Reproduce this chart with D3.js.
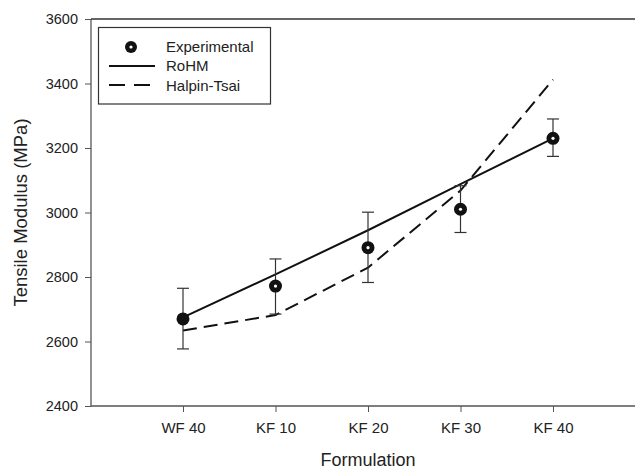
<!DOCTYPE html>
<html><head><meta charset="utf-8">
<script src="https://cdn.jsdelivr.net/npm/d3@7"></script>
<style>body{margin:0;background:#fff}svg{display:block}text{font-family:"Liberation Sans",Arial,sans-serif}</style>
</head><body><svg id="c" width="635" height="469"></svg>
<script>
const categories = ["WF 40","KF 10","KF 20","KF 30","KF 40"];
const experimental = [2670, 2772, 2891, 3010, 3230];
const expErrUp = [95, 84, 110, 73, 60];
const expErrDown = [93, 87, 108, 72, 56];
const rohm = [2675, 2808, 2945, 3088, 3230];
const halpinTsai = [2634, 2682, 2829, 3068, 3412];
const yTicks = [2400, 2600, 2800, 3000, 3200, 3400, 3600];

const svg = d3.select("#c");
const pLeft = 91, pRight = 635, pTop = 19, pBottom = 406;
const x = d3.scalePoint().domain(categories).range([183, 553]);
const y = d3.scaleLinear().domain([2400, 3600]).range([pBottom, pTop]);
const axisColor = "#555";

// axes
const ya = svg.append("g").attr("transform", `translate(${pLeft},0)`)
  .call(d3.axisLeft(y).tickValues(yTicks).tickSizeOuter(0).tickSize(6).tickPadding(7).tickFormat(d3.format("d")));
ya.select(".domain").remove();
ya.selectAll("line").attr("stroke", axisColor);
ya.selectAll("text").attr("font-size", 14.5).attr("fill", "#222").attr("font-family", "Liberation Sans, Arial, sans-serif");

const xa = svg.append("g").attr("transform", `translate(0,${pBottom})`)
  .call(d3.axisBottom(x).tickSizeOuter(0).tickSize(6).tickPadding(10));
xa.select(".domain").remove();
xa.selectAll("line").attr("stroke", axisColor);
xa.selectAll("text").attr("font-size", 15).attr("fill", "#222").attr("font-family", "Liberation Sans, Arial, sans-serif");

svg.append("line").attr("x1", pLeft).attr("x2", pLeft).attr("y1", pTop).attr("y2", pBottom + 0.5).attr("stroke", axisColor).attr("stroke-width", 1.3);
svg.append("line").attr("x1", pLeft).attr("x2", pRight).attr("y1", pBottom).attr("y2", pBottom).attr("stroke", axisColor).attr("stroke-width", 1.3);
svg.append("line").attr("x1", pLeft).attr("x2", pRight).attr("y1", pTop).attr("y2", pTop).attr("stroke", "#333").attr("stroke-width", 1.3);

// titles
svg.append("text").attr("x", 368).attr("y", 466).attr("text-anchor", "middle").attr("font-size", 18).attr("fill", "#222").text("Formulation");
svg.append("text").attr("transform", `translate(27,${(pTop+pBottom)/2}) rotate(-90)`).attr("text-anchor", "middle").attr("font-size", 18.5).attr("fill", "#222").text("Tensile Modulus (MPa)");

// lines
const line = d3.line().x((d, i) => x(categories[i])).y(d => y(d));
svg.append("path").datum(halpinTsai).attr("d", line).attr("fill", "none").attr("stroke", "#111").attr("stroke-width", 2).attr("stroke-dasharray", "14,7");
svg.append("path").datum(rohm).attr("d", line).attr("fill", "none").attr("stroke", "#111").attr("stroke-width", 2);

// error bars
const eb = svg.append("g").attr("stroke", "#333").attr("stroke-width", 1.2);
experimental.forEach((v, i) => {
  const cx = x(categories[i]);
  const y1 = y(v + expErrUp[i]), y2 = y(v - expErrDown[i]);
  eb.append("line").attr("x1", cx).attr("x2", cx).attr("y1", y1).attr("y2", y2);
  eb.append("line").attr("x1", cx - 6).attr("x2", cx + 6).attr("y1", y1).attr("y2", y1);
  eb.append("line").attr("x1", cx - 6).attr("x2", cx + 6).attr("y1", y2).attr("y2", y2);
});

// points
experimental.forEach((v, i) => {
  const cx = x(categories[i]), cy = y(v);
  svg.append("circle").attr("cx", cx).attr("cy", cy).attr("r", 6.5).attr("fill", "#111");
  if (i > 0) svg.append("circle").attr("cx", cx).attr("cy", cy).attr("r", 1.6).attr("fill", "#fff");
});

// legend
const lg = svg.append("g");
lg.append("rect").attr("x", 98.5).attr("y", 27.5).attr("width", 172).attr("height", 76.5).attr("fill", "#fff").attr("stroke", "#333").attr("stroke-width", 1.2);
lg.append("circle").attr("cx", 131).attr("cy", 47).attr("r", 6).attr("fill", "#111");
lg.append("circle").attr("cx", 131).attr("cy", 47).attr("r", 1.6).attr("fill", "#fff");
lg.append("line").attr("x1", 109).attr("x2", 155).attr("y1", 66).attr("y2", 66).attr("stroke", "#111").attr("stroke-width", 2);
lg.append("line").attr("x1", 109).attr("x2", 150).attr("y1", 85).attr("y2", 85).attr("stroke", "#111").attr("stroke-width", 2).attr("stroke-dasharray", "16,9");
const labels = ["Experimental", "RoHM", "Halpin-Tsai"];
labels.forEach((t, i) => {
  lg.append("text").attr("x", 166).attr("y", 52 + i * 19.3).attr("font-size", 15).attr("fill", "#222").text(t);
});
</script></body></html>
